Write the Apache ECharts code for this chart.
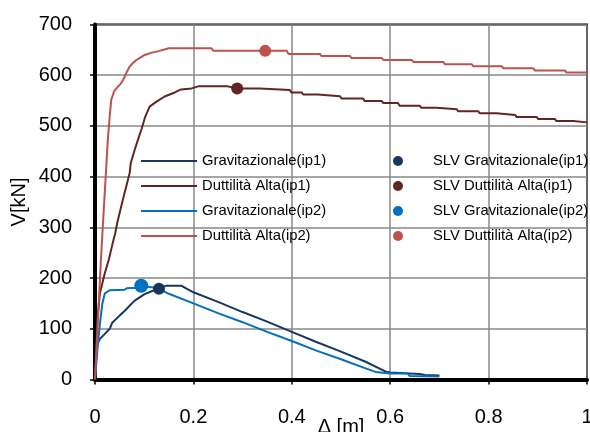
<!DOCTYPE html>
<html>
<head>
<meta charset="utf-8">
<script src="https://cdn.jsdelivr.net/npm/echarts@6/dist/echarts.min.js"></script>
<style>
  html, body { margin: 0; padding: 0; background: #fff; }
  #chart { width: 590px; height: 432px; }
</style>
</head>
<body>
<div id="chart"></div>
<script>
// Pushover curves: base shear V [kN] against top displacement Δ [m]
const xTicks = [0, 0.2, 0.4, 0.6, 0.8, 1];
const yTicks = [0, 100, 200, 300, 400, 500, 600, 700];

const curveNames = [
  'Gravitazionale(ip1)',
  'Duttilità Alta(ip1)',
  'Gravitazionale(ip2)',
  'Duttilità Alta(ip2)'
];
const slvNames = [
  'SLV Gravitazionale(ip1)',
  'SLV Duttilità Alta(ip1)',
  'SLV Gravitazionale(ip2)',
  'SLV Duttilità Alta(ip2)'
];

const gravIp1 = [
  [0, 0], [0.004, 70], [0.01, 80], [0.02, 90], [0.03, 100], [0.035, 112],
  [0.05, 126], [0.06, 135], [0.08, 155], [0.1, 168], [0.115, 174], [0.13, 179],
  [0.145, 185], [0.175, 185], [0.2, 172], [0.25, 153], [0.3, 133], [0.35, 114],
  [0.4, 94], [0.45, 74], [0.5, 55], [0.55, 35], [0.59, 16], [0.6, 14],
  [0.66, 11], [0.67, 9], [0.7, 8]
];

const duttIp1 = [
  [0, 0], [0.005, 120], [0.01, 170], [0.02, 210], [0.028, 236], [0.035, 265],
  [0.041, 288], [0.045, 308], [0.058, 360], [0.0705, 407], [0.0725, 426],
  [0.0807, 453], [0.0874, 473], [0.095, 495], [0.102, 518], [0.111, 538],
  [0.125, 548], [0.1416, 558], [0.162, 566], [0.175, 572], [0.196, 574],
  [0.21, 578], [0.27, 578], [0.289, 574], [0.335, 574], [0.338, 571],
  [0.396, 571], [0.399, 566], [0.42, 566], [0.423, 562], [0.453, 562],
  [0.456, 558.5], [0.498, 558.5], [0.501, 554], [0.545, 554], [0.548, 549],
  [0.583, 549], [0.586, 545], [0.616, 545], [0.619, 540], [0.66, 540],
  [0.663, 536], [0.694, 536], [0.697, 533], [0.735, 533], [0.738, 529],
  [0.779, 529], [0.782, 525], [0.816, 525], [0.819, 521.5], [0.854, 521.5],
  [0.857, 517.5], [0.898, 517.5], [0.901, 513.5], [0.935, 513.5],
  [0.938, 509.5], [0.972, 509.5], [0.975, 507], [1, 507]
];

const gravIp2 = [
  [0, 0], [0.005, 60], [0.01, 110], [0.015, 150], [0.02, 170], [0.03, 176],
  [0.06, 177], [0.065, 180], [0.085, 181], [0.095, 184], [0.125, 181],
  [0.15, 169], [0.2, 150], [0.25, 131], [0.3, 113], [0.35, 94], [0.4, 76],
  [0.45, 57], [0.5, 40], [0.55, 22], [0.57, 15], [0.6, 12], [0.635, 12],
  [0.64, 7], [0.7, 6]
];

const duttIp2 = [
  [0, 0], [0.012, 236], [0.026, 472], [0.03, 520], [0.033, 551],
  [0.0386, 568], [0.047, 578], [0.053, 584], [0.059, 594], [0.065, 607],
  [0.0705, 617], [0.077, 624], [0.084, 630], [0.093, 635], [0.101, 640],
  [0.114, 644], [0.131, 648], [0.15, 653], [0.237, 653], [0.24, 648],
  [0.39, 648], [0.393, 642], [0.457, 642], [0.46, 638], [0.518, 638],
  [0.521, 634], [0.583, 634], [0.586, 630], [0.644, 630], [0.647, 626],
  [0.708, 626], [0.711, 621.5], [0.766, 621.5], [0.769, 617.5], [0.827, 617.5],
  [0.83, 613.5], [0.891, 613.5], [0.894, 609.5], [0.955, 609.5],
  [0.958, 605.5], [1, 605.5]
];

// SLV limit-state points on each curve
const slvPoints = [
  [0.13, 179],
  [0.289, 574],
  [0.094, 185],
  [0.346, 648]
];

const colors = ['#17375E', '#632523', '#0070C0', '#C0504D'];
const slvSizes = [12, 12, 14, 12];
const curves = [gravIp1, duttIp1, gravIp2, duttIp2];

const fontFamily = '"Liberation Sans", Arial, sans-serif';

const series = [];
curves.forEach((data, i) => {
  series.push({
    name: curveNames[i],
    type: 'line',
    data: data,
    symbol: 'none',
    lineStyle: { color: colors[i], width: 2 },
    itemStyle: { color: colors[i] },
    z: 2
  });
});
slvPoints.forEach((pt, i) => {
  series.push({
    name: slvNames[i],
    type: 'scatter',
    data: [pt],
    symbol: 'circle',
    symbolSize: slvSizes[i],
    itemStyle: { color: colors[i], opacity: 1 },
    z: 5
  });
});

const legendText = { fontFamily: fontFamily, fontSize: 14.8, color: '#000', lineHeight: 15 };

const chart = echarts.init(document.getElementById('chart'), null, { renderer: 'canvas' });
chart.setOption({
  animation: false,
  backgroundColor: '#fff',
  textStyle: { fontFamily: fontFamily },
  grid: {
    left: 95, right: 3, top: 24.5, bottom: 52.5,
    outerBoundsMode: 'none',
    show: true, borderColor: '#000', borderWidth: 2
  },
  legend: [
    {
      data: curveNames.map(n => ({ name: n, icon: 'rect' })),
      orient: 'vertical',
      left: 141, top: 153.5,
      padding: 0,
      itemWidth: 56, itemHeight: 2, itemGap: 10,
      textStyle: legendText
    },
    {
      data: slvNames,
      orient: 'vertical',
      left: 393, top: 153.5,
      padding: 0,
      icon: 'circle',
      itemWidth: 10, itemHeight: 10, itemGap: 10,
      textStyle: Object.assign({ padding: [0, 0, 0, 25] }, legendText)
    }
  ],
  xAxis: {
    type: 'value',
    min: xTicks[0], max: xTicks[xTicks.length - 1],
    interval: xTicks[1] - xTicks[0],
    name: 'Δ [m]',
    nameLocation: 'middle',
    nameGap: 38,
    nameMoveOverlap: false,
    nameTextStyle: { fontSize: 20, color: '#000', fontFamily: fontFamily },
    axisLine: { onZero: false, lineStyle: { color: '#000', width: 4 } },
    axisTick: { show: true, length: 5, lineStyle: { color: '#000', width: 1.5 } },
    axisLabel: { fontSize: 20, color: '#000', margin: 28, fontFamily: fontFamily },
    splitLine: { show: true, lineStyle: { color: '#888', width: 1.5 } }
  },
  yAxis: {
    type: 'value',
    min: yTicks[0], max: yTicks[yTicks.length - 1],
    interval: yTicks[1] - yTicks[0],
    name: 'V[kN]',
    nameLocation: 'middle',
    nameGap: 66,
    nameMoveOverlap: false,
    nameTextStyle: { fontSize: 20, color: '#000', fontFamily: fontFamily },
    axisLine: { onZero: false, lineStyle: { color: '#000', width: 4 } },
    axisTick: { show: true, length: 5, lineStyle: { color: '#000', width: 1.5 } },
    axisLabel: { fontSize: 20, color: '#000', margin: 23, fontFamily: fontFamily },
    splitLine: { show: true, lineStyle: { color: '#888', width: 1.5 } }
  },
  series: series
});
</script>
</body>
</html>
